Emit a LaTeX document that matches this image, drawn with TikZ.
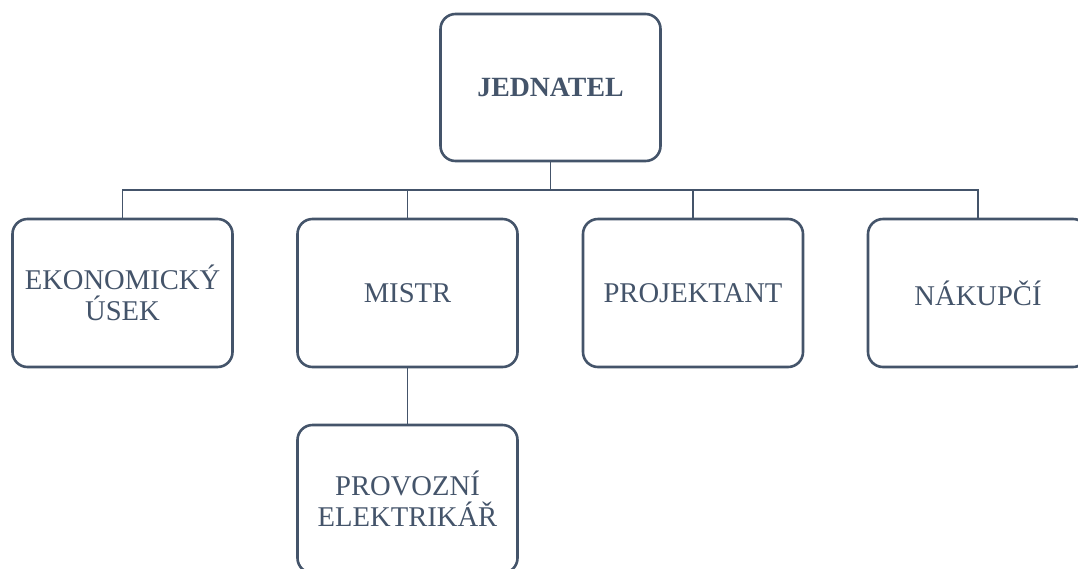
\documentclass[tikz,border=0pt]{standalone}
\usepackage{fontspec}
\setmainfont{Liberation Serif}
\definecolor{slate}{HTML}{44546A}
\begin{document}
\begin{tikzpicture}[x=1pt,y=-1pt,
  orgbox/.style={draw=slate, line width=2.6pt, rounded corners=15pt, fill=white,
    minimum width=220pt, minimum height=148pt, text=slate, align=center,
    font=\fontsize{28.6}{31}\selectfont, inner sep=0pt},
  conn/.style={draw=slate, line width=1.3pt}]
\useasboundingbox (0,0) rectangle (1078,568);
\clip (0,0) rectangle (1078,568);
\node[orgbox, minimum height=147pt, font=\bfseries\fontsize{27.8}{31}\selectfont] (j) at (550.5,87.5) {JEDNATEL};
\node[orgbox] (e) at (122.5,293) {EKONOMICKÝ\\ÚSEK};
\node[orgbox] (m) at (407.5,293) {MISTR};
\node[orgbox] (p) at (693,293) {PROJEKTANT};
\node[orgbox] (n) at (978,293) {NÁKUPČÍ};
\node[orgbox] (pe) at (407.5,499) {PROVOZNÍ\\ELEKTRIKÁŘ};
\coordinate (bus) at (550.5,190);
\draw[conn] (j.south) -- (bus);
\draw[conn] (e.north) |- (bus) -| (n.north);
\draw[conn] (m.north) -- (m.north |- bus);
\draw[conn] (p.north) -- (p.north |- bus);
\draw[conn] (m.south) -- (pe.north);
\end{tikzpicture}
\end{document}
